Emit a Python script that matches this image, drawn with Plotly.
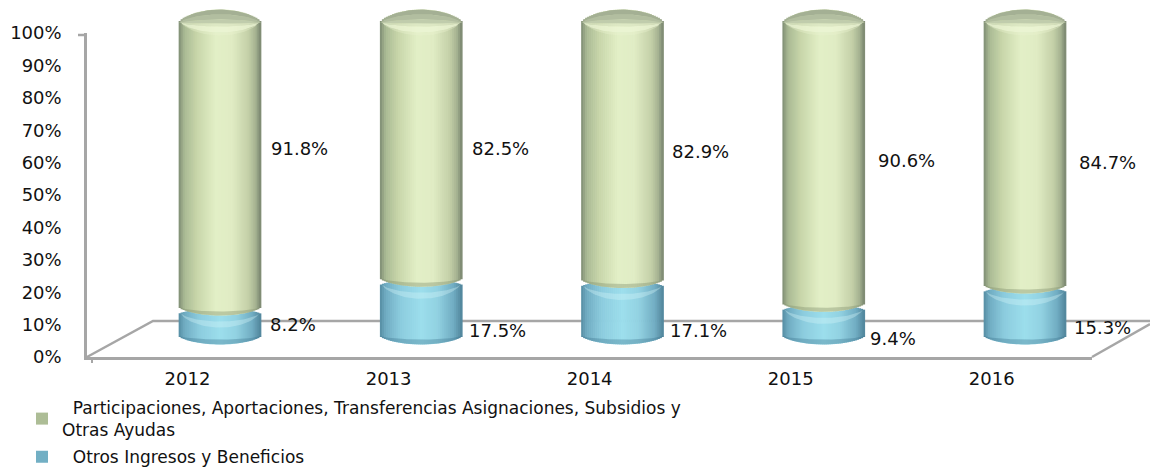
import plotly.graph_objects as go

years = ["2012", "2013", "2014", "2015", "2016"]
otros = [8.2, 17.5, 17.1, 9.4, 15.3]
participaciones = [91.8, 82.5, 82.9, 90.6, 84.7]
name_part = "\u00a0\u00a0Participaciones, Aportaciones, Transferencias Asignaciones, Subsidios y<br>Otras Ayudas"
name_otros = "\u00a0\u00a0Otros Ingresos y Beneficios"

# label placement relative to bar centre / segment middle (pixels)
part_dx = [79.5, 79.5, 77.5, 82.5, 82]
part_py = [149, 149, 152, 160, 163]
otros_dx = [73, 76.5, 76, 69, 77.5]
otros_py = [324, 331, 331, 338, 328]

W, H = 1150, 470
Y0, PX = 336.0, 3.1           # bar scale: pixel of 0 %, pixels per 1 %
STEP = 201.25
BAR_W = 82.0
N = 41
SAG = 8.5
GAP = 3.5
TOP_SAG = 13.0
FONT = "DejaVu Sans"
TXT = "#111111"
AXC = "#a6a6a6"


def lerp_col(stops, t):
    for (a, ca), (b, cb) in zip(stops, stops[1:]):
        if a <= t <= b:
            f = (t - a) / (b - a)
            c = [round(ca[k] + (cb[k] - ca[k]) * f) for k in range(3)]
            return f"rgb({c[0]},{c[1]},{c[2]})"
    return "rgb(0,0,0)"


green_stops = [(-1, (125, 140, 115)), (-0.86, (170, 186, 148)), (-0.55, (200, 214, 170)),
               (-0.1, (226, 239, 198)), (0.3, (224, 236, 196)), (0.7, (196, 208, 168)),
               (0.88, (165, 178, 145)), (1, (120, 132, 110))]
blue_stops = [(-1, (85, 140, 162)), (-0.86, (112, 172, 194)), (-0.5, (140, 204, 222)),
              (0.0, (156, 222, 236)), (0.4, (146, 210, 226)), (0.8, (112, 172, 194)),
              (1, (80, 132, 154))]

fig = go.Figure()

# invisible trace that carries the visible category axis
fig.add_trace(go.Scatter(x=list(range(5)), y=[0] * 5, mode="markers", marker=dict(opacity=0),
                         showlegend=False, hoverinfo="skip", xaxis="x", yaxis="y"))


def arc(u):
    return max(0.0, 1 - u * u) ** 0.7


def add_strips(values, bases, stops, name, rank, bottom_gap, top_gap, top_sag):
    w = 2 / N
    for j in range(N):
        u = -1 + (j + 0.5) * w
        c = arc(u)
        lo = [b + (bottom_gap - SAG * c) / PX for b in bases]
        hi = [b + v + (top_gap + top_sag * c) / PX for b, v in zip(bases, values)]
        fig.add_trace(go.Bar(
            x=list(range(5)), y=[h - l for h, l in zip(hi, lo)], base=lo,
            width=(BAR_W / N + 0.7) / STEP,
            offset=(u * BAR_W / 2 - (BAR_W / N + 0.7) / 2) / STEP,
            marker=dict(color=lerp_col(stops, u), line=dict(width=0)),
            name=name, legendgroup=name, legendrank=rank, showlegend=j == 3,
            hoverinfo="skip", xaxis="x2", yaxis="y2", cliponaxis=False))


def add_band(cx, py_side, c_a, c_b, color, rx=BAR_W / 2):
    """crescent between two arcs that meet at py_side; c_a, c_b = pixels below it mid-bar"""
    us = [-1 + k / 20 for k in range(41)]
    xs = [cx + u * rx / STEP for u in us] + [cx + u * rx / STEP for u in reversed(us)]
    ys = [(Y0 - (py_side + c_a * arc(u))) / PX for u in us]
    ys += [(Y0 - (py_side + c_b * arc(u))) / PX for u in reversed(us)]
    fig.add_trace(go.Scatter(x=xs, y=ys, mode="lines", fill="toself", fillcolor=color,
                             line=dict(width=0), showlegend=False, hoverinfo="skip",
                             xaxis="x2", yaxis="y2"))


# blue segment
add_strips(otros, [0] * 5, blue_stops, name_otros, 2, 0, -GAP, 6)
for i, v in enumerate(otros):
    iface = Y0 - v * PX
    add_band(i, iface + 3, 8, 14, "rgba(215,245,250,0.35)", 39)
    add_band(i, Y0, SAG - 5, SAG, "rgba(60,115,140,0.35)")

# green segment
add_strips(participaciones, otros, green_stops, name_part, 1, GAP, GAP, TOP_SAG)
for i, (v, t) in enumerate(zip(otros, participaciones)):
    iface = Y0 - v * PX
    add_band(i, iface - GAP, SAG - 4, SAG, "rgba(130,145,110,0.4)")
    side = Y0 - (v + t) * PX - GAP
    add_band(i, side, 10, 13, "rgba(234,243,208,0.35)", 39)
    add_band(i, side, 4, 10, "rgba(236,245,212,0.8)", 39)
    add_band(i, side, 1, 4, "rgba(220,230,195,0.7)", 40)
    add_band(i, side, -3, 1, "rgb(192,204,172)", 41)
    add_band(i, side, -8, -3, "rgb(178,190,160)", 41)
    add_band(i, side, -TOP_SAG, -8, "rgb(164,176,148)", 41)

annotations = []
for i in range(5):
    mid = otros[i] + participaciones[i] / 2
    annotations.append(dict(xref="x2", yref="y2", x=i, y=mid, text=f"{participaciones[i]:.1f}%",
                            showarrow=False, xanchor="center", yanchor="middle",
                            xshift=part_dx[i], yshift=(Y0 - mid * PX) - part_py[i],
                            font=dict(family=FONT, size=18, color=TXT)))
    mid = otros[i] / 2
    annotations.append(dict(xref="x2", yref="y2", x=i, y=mid, text=f"{otros[i]:.1f}%",
                            showarrow=False, xanchor="center", yanchor="middle",
                            xshift=otros_dx[i], yshift=(Y0 - mid * PX) - otros_py[i],
                            font=dict(family=FONT, size=18, color=TXT)))


def px(x):
    return x / W


def py(y):
    return 1 - y / H


floor = dict(type="path", xref="paper", yref="paper", layer="below",
             line=dict(color=AXC, width=2.5),
             path=f"M {px(87)} {py(357)} L {px(153)} {py(321)} L {px(1150)} {py(321)}")
floor2 = dict(type="line", xref="paper", yref="paper", layer="below",
              line=dict(color=AXC, width=2.5),
              x0=px(1092), y0=py(357), x1=px(1150), y1=py(324))
tick_top = dict(type="line", xref="paper", yref="paper", line=dict(color=AXC, width=2.5),
                x0=px(78), y0=py(35), x1=px(87), y1=py(35))
tick_low = dict(type="line", xref="paper", yref="paper", line=dict(color=AXC, width=2),
                x0=px(92), y0=py(357), x1=px(92), y1=py(363))

fig.update_layout(
    width=W, height=H, margin=dict(l=0, r=0, t=0, b=0, autoexpand=False),
    paper_bgcolor="white", plot_bgcolor="rgba(0,0,0,0)",
    barmode="overlay", annotations=annotations, shapes=[floor, floor2, tick_top, tick_low],
    font=dict(family=FONT, size=18, color=TXT),
    xaxis=dict(domain=[px(87), px(1092.25)], range=[-0.5, 4.5], tickmode="array",
               tickvals=list(range(5)), ticktext=years, showgrid=False, zeroline=False,
               showline=True, linecolor=AXC, linewidth=2.5, ticks="", ticklabelstandoff=4,
               anchor="y"),
    yaxis=dict(domain=[py(357), py(33)], range=[0, 100], tickmode="linear", tick0=0, dtick=10,
               ticksuffix="%", showgrid=False, zeroline=False, showline=True, linecolor=AXC,
               linewidth=2.5, ticks="", ticklabelstandoff=19, anchor="x"),
    xaxis2=dict(domain=[px(220 - STEP / 2), px(1025 + STEP / 2)], range=[-0.5, 4.5], visible=False,
                anchor="y2"),
    yaxis2=dict(domain=[0, 1], range=[(Y0 - H) / PX, Y0 / PX], visible=False, anchor="x2"),
    legend=dict(x=px(22), xanchor="left", y=py(390), yanchor="top", orientation="v",
                font=dict(family=FONT, size=17, color=TXT), tracegroupgap=2,
                bgcolor="rgba(0,0,0,0)", itemclick=False, itemdoubleclick=False),
)

fig.write_html("out.html", config=dict(displayModeBar=False),
               post_script="document.body.style.margin='0';")
